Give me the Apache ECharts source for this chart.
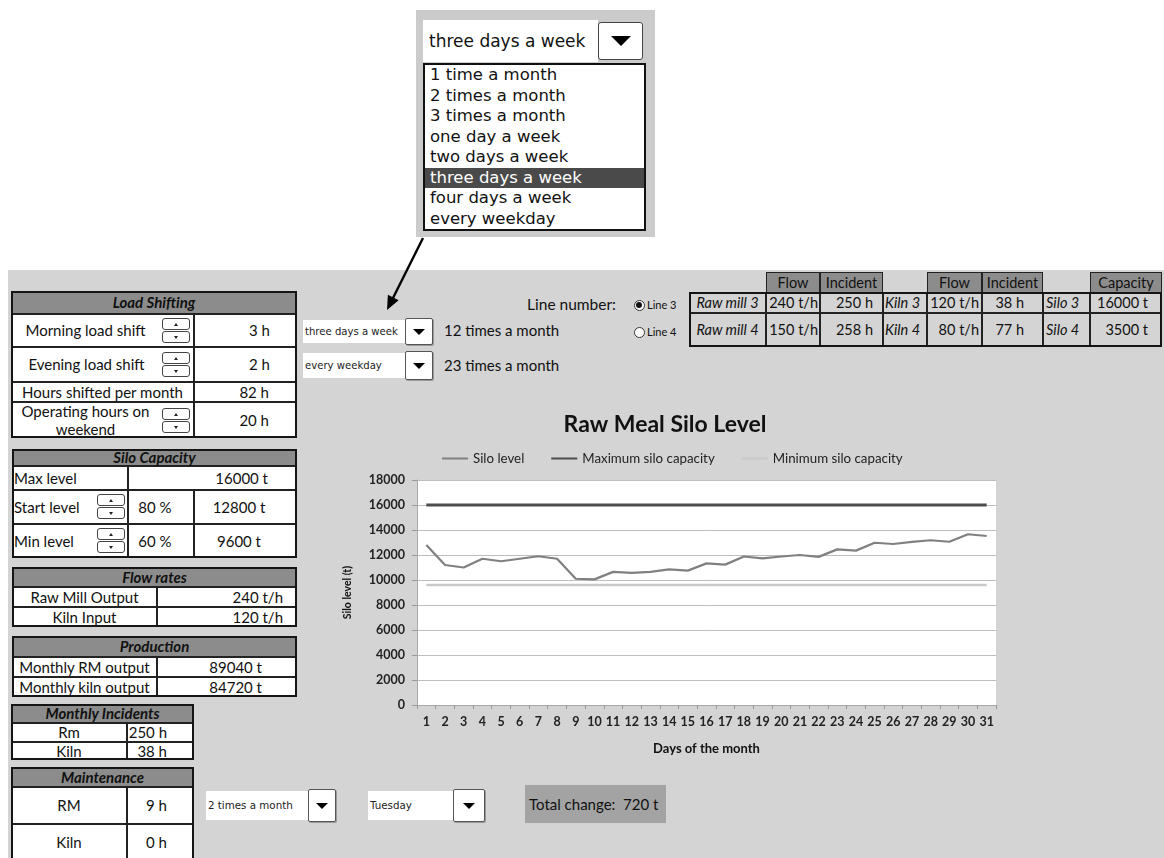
<!DOCTYPE html>
<html><head><meta charset="utf-8">
<script src="https://cdn.jsdelivr.net/npm/echarts@6/dist/echarts.min.js"></script>
<style>
html,body{margin:0;padding:0;width:1164px;height:858px;overflow:hidden;background:#fff;font-family:Lato,'Open Sans',sans-serif;color:#111;}
#root{position:absolute;left:0;top:0;width:1164px;height:858px;z-index:1;}
.b{position:absolute;box-sizing:border-box;}
.t{position:absolute;box-sizing:border-box;display:flex;align-items:center;white-space:nowrap;font-size:15px;line-height:1.1;}
</style></head><body>
<div id="root"></div>
<div id="chart" style="position:absolute;left:330px;top:400px;width:670px;height:370px;z-index:2"></div>
<svg width="1164" height="858" style="position:absolute;left:0;top:0;z-index:3;pointer-events:none">
  <line x1="423" y1="238" x2="393" y2="298" stroke="#000" stroke-width="2.4"/>
  <polygon points="387,310 398.6,300.2 387.9,294.8" fill="#000"/>
</svg>
<script>
// ---------------- chart data ----------------
const days = ['1','2','3','4','5','6','7','8','9','10','11','12','13','14','15','16','17','18','19','20','21','22','23','24','25','26','27','28','29','30','31'];
const siloLevel = [12800,11200,11000,11700,11500,11700,11900,11700,10100,10050,10650,10570,10650,10850,10750,11330,11230,11880,11730,11880,12000,11850,12450,12350,12980,12880,13050,13180,13060,13660,13520];
const maxCapacity = [16000,16000,16000,16000,16000,16000,16000,16000,16000,16000,16000,16000,16000,16000,16000,16000,16000,16000,16000,16000,16000,16000,16000,16000,16000,16000,16000,16000,16000,16000,16000];
const minCapacity = [9600,9600,9600,9600,9600,9600,9600,9600,9600,9600,9600,9600,9600,9600,9600,9600,9600,9600,9600,9600,9600,9600,9600,9600,9600,9600,9600,9600,9600,9600,9600];
const seriesNames = ['Silo level','Maximum silo capacity','Minimum silo capacity'];
const yTicks = {min:0, max:18000, interval:2000};
const frequencyOptions = ['1 time a month','2 times a month','3 times a month','one day a week','two days a week','three days a week','four days a week','every weekday'];

// ---------------- dashboard (HTML) ----------------
const root = document.getElementById('root');
function box(x1,y1,x2,y2,css){const d=document.createElement('div');d.className='b';d.style.cssText=`left:${x1}px;top:${y1}px;width:${x2-x1}px;height:${y2-y1}px;`+(css||'');root.appendChild(d);return d;}
function text(x1,y1,x2,y2,s,align,css){const d=document.createElement('div');d.className='t';d.style.cssText=`left:${x1}px;top:${y1}px;width:${x2-x1}px;height:${y2-y1}px;justify-content:${align==='l'?'flex-start':align==='r'?'flex-end':'center'};`+(css||'');d.innerHTML=s;root.appendChild(d);return d;}
const HDR='background:#8c8c8c;border:1px solid #222;';
const CELL='background:#fff;border:1px solid #222;';
const HTXT='font-weight:bold;font-style:italic;font-size:15px;';
function frame(x1,y1,x2,y2){box(x1,y1,x2,y2,'border:2px solid #151515;');}
function tri(cx,cy,w,h,up,col){
  if(up) box(cx-w/2,cy-h/2,cx+w/2,cy+h/2,`width:0;height:0;border-left:${w/2}px solid transparent;border-right:${w/2}px solid transparent;border-bottom:${h}px solid ${col};`);
  else box(cx-w/2,cy-h/2,cx+w/2,cy+h/2,`width:0;height:0;border-left:${w/2}px solid transparent;border-right:${w/2}px solid transparent;border-top:${h}px solid ${col};`);
}
function spinner(x,y){
  box(x,y,x+28,y+12,'border:1px solid #444;border-radius:3px;background:#fff;');
  box(x,y+13,x+28,y+25,'border:1px solid #444;border-radius:3px;background:#fff;');
  tri(x+14,y+6,5,3,true,'#222'); tri(x+14,y+19,5,3,false,'#222');
}
function dropdown(x1,y1,x2,bx2,y2,label,fs){
  box(x1,y1,x2,y2,'background:#fff;');
  text(x1+2,y1,x2,y2,label,'l',`font-family:'DejaVu Sans';font-size:${fs}px;color:#222;overflow:hidden;`);
  box(x2,y1-2,bx2,y2+2,'background:#fff;border:1px solid #555;border-radius:2px;box-shadow:1px 1px 0 #999;');
  const cx=(x2+bx2)/2, cy=(y1+y2)/2;
  tri(cx,cy,12,6,false,'#000');
}

// gray sheet
box(8,270,1164,858,'background:#d4d4d4;');

// top popup
box(416,10,655,237,'background:#cbcbcb;');
box(423,20,598,62,'background:#fff;');
text(429,20,598,62,'three days a week','l',"font-family:'DejaVu Sans';font-size:17px;color:#111;");
box(598,22,643,60,'background:#fff;border:1px solid #444;border-radius:3px;');
tri(620.5,41,20,10,false,'#000');
box(423,63,646,231,'background:#fff;border:2px solid #111;');
frequencyOptions.forEach((s,i)=>{
  const cy=75.5+20.5*i;
  if(i===5) box(425,cy-10,644,cy+10,'background:#4a4a4a;');
  text(430,cy-10,644,cy+10,s,'l',`font-family:'DejaVu Sans';font-size:16.5px;color:${i===5?'#fff':'#111'};`);
});

// Load Shifting
box(11,291,297,314,HDR); text(11,291,297,314,'Load Shifting','c',HTXT);
box(11,314,194,347,CELL); box(194,314,297,347,CELL);
text(11,314,160,347,'Morning load shift','c'); spinner(162,318); text(194,314,270,347,'3 h','r');
box(11,347,194,382,CELL); box(194,347,297,382,CELL);
text(11,347,162,382,'Evening load shift','c'); spinner(162,352); text(194,347,270,382,'2 h','r');
box(11,382,194,402,CELL); box(194,382,297,402,CELL);
text(11,382,194,402,'Hours shifted per month','c'); text(194,382,269,402,'82 h','r');
box(11,402,194,438,CELL); box(194,402,297,438,CELL);
text(11,402,160,438,'Operating hours on<br>weekend','c','text-align:center;line-height:1.2;'); spinner(162,408); text(194,402,269,438,'20 h','r');
frame(11,291,297,438);

// Silo Capacity
box(12,449,297,466,HDR); text(12,449,297,466,'Silo Capacity','c',HTXT);
box(12,466,128,490,CELL); box(128,466,297,490,CELL);
text(14,466,128,490,'Max level','l'); text(128,466,268,490,'16000 t','r');
box(12,490,128,524,CELL); box(128,490,194,524,CELL); box(194,490,297,524,CELL);
text(14,490,128,524,'Start level','l'); spinner(97,494); text(128,490,182,524,'80 %','c'); text(194,490,284,524,'12800 t','c');
box(12,524,128,558,CELL); box(128,524,194,558,CELL); box(194,524,297,558,CELL);
text(14,524,128,558,'Min level','l'); spinner(97,528); text(128,524,182,558,'60 %','c'); text(194,524,284,558,'9600 t','c');
frame(12,449,297,558);

// Flow rates
box(12,567,297,587,HDR); text(12,567,297,587,'Flow rates','c',HTXT);
box(12,587,157,607,CELL); box(157,587,297,607,CELL);
text(12,587,157,607,'Raw Mill Output','c'); text(157,587,283,607,'240 t/h','r');
box(12,607,157,627,CELL); box(157,607,297,627,CELL);
text(12,607,157,627,'Kiln Input','c'); text(157,607,283,627,'120 t/h','r');
frame(12,567,297,627);

// Production
box(12,636,297,657,HDR); text(12,636,297,657,'Production','c',HTXT);
box(12,657,157,677,CELL); box(157,657,297,677,CELL);
text(12,657,157,677,'Monthly RM output','c'); text(157,657,262,677,'89040 t','r');
box(12,677,157,697,CELL); box(157,677,297,697,CELL);
text(12,677,157,697,'Monthly kiln output','c'); text(157,677,262,697,'84720 t','r');
frame(12,636,297,697);

// Monthly Incidents
box(11,704,194,723,HDR); text(11,704,194,723,'Monthly Incidents','c',HTXT);
box(11,723,127,742,CELL); box(127,723,194,742,CELL);
text(11,723,127,742,'Rm','c'); text(127,723,167,742,'250 h','r');
box(11,742,127,760,CELL); box(127,742,194,760,CELL);
text(11,742,127,760,'Kiln','c'); text(127,742,167,760,'38 h','r');
frame(11,704,194,760);

// Maintenance
box(11,767,194,787,HDR); text(11,767,194,787,'Maintenance','c',HTXT);
box(11,787,127,824,CELL); box(127,787,194,824,CELL);
text(11,787,127,824,'RM','c'); text(127,787,167,824,'9 h','r');
box(11,824,127,862,CELL); box(127,824,194,862,CELL);
text(11,824,127,860,'Kiln','c'); text(127,824,167,860,'0 h','r');
frame(11,767,194,862);

// dropdowns middle
dropdown(303,320,405,433,343,'three days a week',10.1);
text(444,318,620,343,'12 times a month','l');
dropdown(303,353,405,433,378,'every weekday',10.1);
text(444,352,620,378,'23 times a month','l');

// bottom dropdowns + total
dropdown(206,791,308,336,820,'2 times a month',10.3);
dropdown(368,791,453,485,820,'Tuesday',10.3);
box(525,785,666,823,'background:#a3a3a3;');
text(529,785,666,823,'Total change:&nbsp; 720 t','l');

// Line number + radios
text(460,294,616,316,'Line number:','r','font-size:15.5px;');
function radio(cx,cy,on){
  box(cx-5.5,cy-5.5,cx+5.5,cy+5.5,'border:1px solid #333;border-radius:50%;background:#fff;');
  if(on) box(cx-3,cy-3,cx+3,cy+3,'border-radius:50%;background:#111;');
}
radio(639,305,true); text(647,295,690,315,'Line 3','l',"font-size:11px;");
radio(639,332,false); text(647,322,690,342,'Line 4','l',"font-size:11px;");

// right table
const hdrs=[[766,820,'Flow'],[820,883,'Incident'],[927,982,'Flow'],[982,1043,'Incident'],[1090,1162,'Capacity']];
hdrs.forEach(h=>{box(h[0],272,h[1],293,HDR);text(h[0],272,h[1],293,h[2],'c','font-size:14.5px;');});
const cols=[689,766,820,883,927,982,1043,1090,1162];
const rows=[[292,313],[313,347]];
const rowData=[
  [['<i>Raw mill 3</i>','c',0],['240 t/h','r',2],['250 h','r',10],['<i>Kiln 3</i>','l',2],['120 t/h','r',3],['38 h','r',19],['<i>Silo 3</i>','l',3],['16000 t','r',14]],
  [['<i>Raw mill 4</i>','c',0],['150 t/h','r',2],['258 h','r',10],['<i>Kiln 4</i>','l',2],['80 t/h','r',3],['77 h','r',19],['<i>Silo 4</i>','l',3],['3500 t','r',14]]
];
rows.forEach((r,ri)=>{
  for(let c=0;c<8;c++){
    box(cols[c],r[0],cols[c+1],r[1],'border:1px solid #222;');
    const d=rowData[ri][c];
    const pad=d[1]==='r'?`padding-right:${d[2]}px;`:d[1]==='l'?`padding-left:${d[2]}px;`:'';
    text(cols[c],r[0],cols[c+1],r[1],d[0],d[1],pad+'font-size:14.5px;');
  }
});
frame(689,292,1162,347);

// ---------------- chart ----------------
const chart = echarts.init(document.getElementById('chart'), null, {renderer:'canvas'});
const FONT = 'Lato';
chart.setOption({
  animation:false,
  backgroundColor:'transparent',
  title:{text:'Raw Meal Silo Level',left:'center',top:8,textStyle:{fontFamily:FONT,fontSize:23,fontWeight:'bold',color:'#111'}},
  legend:{left:107,top:47,icon:'rect',itemWidth:26,itemHeight:2,itemGap:27,
    textStyle:{fontFamily:FONT,fontSize:13.3,color:'#222'},data:seriesNames},
  grid:{left:87,right:4,top:80,bottom:65,show:true,backgroundColor:'#fff',borderWidth:0},
  xAxis:{type:'category',data:days,boundaryGap:true,
    axisLine:{lineStyle:{color:'#a8a8a8'}},
    axisTick:{show:true,length:4,lineStyle:{color:'#999'}},
    axisLabel:{margin:10,fontFamily:FONT,fontSize:12.5,fontWeight:'bold',color:'#222',interval:0},
    name:'Days of the month',nameLocation:'middle',nameGap:37,
    nameTextStyle:{fontFamily:FONT,fontWeight:'bold',fontSize:13,color:'#111'}},
  yAxis:{type:'value',min:yTicks.min,max:yTicks.max,interval:yTicks.interval,
    axisLine:{show:true,lineStyle:{color:'#a8a8a8'}},
    axisTick:{show:true,length:5,lineStyle:{color:'#999'}},
    splitLine:{lineStyle:{color:'#bdbdbd',width:1}},
    axisLabel:{margin:12,fontFamily:FONT,fontSize:12.5,fontWeight:'bold',color:'#222',formatter:v=>String(v)},
    name:'Silo level (t)',nameLocation:'middle',nameGap:64,
    nameTextStyle:{fontFamily:FONT,fontSize:10.5,fontWeight:'bold',color:'#111'}},
  series:[
    {name:seriesNames[0],type:'line',data:siloLevel,symbol:'none',lineStyle:{color:'#808080',width:2.2},itemStyle:{color:'#808080'},z:4},
    {name:seriesNames[1],type:'line',data:maxCapacity,symbol:'none',lineStyle:{color:'#4d4d4d',width:3},itemStyle:{color:'#4d4d4d'},z:3},
    {name:seriesNames[2],type:'line',data:minCapacity,symbol:'none',lineStyle:{color:'#c9c9c9',width:2.4},itemStyle:{color:'#c9c9c9'},z:3}
  ]
});
</script>
</body></html>
